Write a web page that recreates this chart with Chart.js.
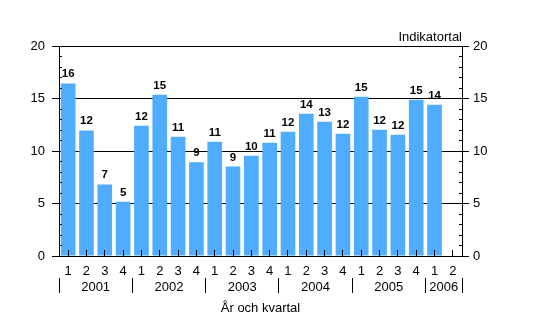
<!DOCTYPE html>
<html>
<head>
<meta charset="utf-8">
<script src="https://cdn.jsdelivr.net/npm/chart.js@4"></script>
<style>
  body { margin: 0; background: #fff; }
  canvas { display: block; }
</style>
</head>
<body>
<canvas id="chart" width="553" height="315"></canvas>
<script>
// quarterly indicator values, 2001 Q1 .. 2006 Q2 (last quarter empty)
const quarters = ["1", "2", "3", "4", "1", "2", "3", "4", "1", "2", "3", "4",
  "1", "2", "3", "4", "1", "2", "3", "4", "1", "2"];
const years = ["2001", "2002", "2003", "2004", "2005", "2006"];
const yearStart = [0, 4, 8, 12, 16, 20, 22];
const values = [16.44, 11.96, 6.82, 5.17, 12.41, 15.36, 11.36, 8.92, 10.89, 8.52, 9.55,
  10.79, 11.84, 13.55, 12.79, 11.65, 15.17, 12.03, 11.55, 14.89, 14.41, null];

const FONT = "'Liberation Sans', Arial, sans-serif";

function crisp(p) {
  return Math.floor(p) + 0.5;
}

// extra marks: ticks, value labels, year groups, titles
const decorPlugin = {
  id: "decor",
  afterDatasetsDraw(chart) {
    const ctx = chart.ctx;
    const area = chart.chartArea;
    const x = chart.scales.x;
    const y = chart.scales.y;
    ctx.save();
    ctx.strokeStyle = "#000";
    ctx.lineWidth = 1;

    // y ticks: major outside, minor inside, both sides
    ctx.beginPath();
    for (let v = 0; v <= 20; v++) {
      const py = crisp(y.getPixelForValue(v));
      if (v % 5 === 0) {
        ctx.moveTo(area.left - 7, py);
        ctx.lineTo(area.left, py);
        ctx.moveTo(area.right, py);
        ctx.lineTo(area.right + 7, py);
      } else {
        ctx.moveTo(area.left, py);
        ctx.lineTo(area.left + 3, py);
        ctx.moveTo(area.right - 3, py);
        ctx.lineTo(area.right, py);
      }
    }
    // x ticks at category centres, pointing up
    quarters.forEach((q, i) => {
      const px = crisp(x.getPixelForValue(i));
      ctx.moveTo(px, area.bottom - 6);
      ctx.lineTo(px, area.bottom);
    });
    // year separators
    yearStart.forEach((s) => {
      const px = crisp(x.getPixelForValue(s - 0.5));
      ctx.moveTo(px, 278);
      ctx.lineTo(px, 293);
    });
    ctx.stroke();

    // value labels
    ctx.fillStyle = "#000";
    ctx.textAlign = "center";
    ctx.textBaseline = "alphabetic";
    ctx.font = "bold 11.5px " + FONT;
    const meta = chart.getDatasetMeta(0);
    values.forEach((v, i) => {
      if (v === null) return;
      const bar = meta.data[i];
      ctx.fillText(String(Math.round(v)), bar.x, bar.y - 6);
    });

    // year labels
    ctx.font = "13px " + FONT;
    years.forEach((yr, k) => {
      const a = x.getPixelForValue(yearStart[k] - 0.5);
      const b = x.getPixelForValue(yearStart[k + 1] - 0.5);
      ctx.fillText(yr, (a + b) / 2, 291);
    });

    // axis titles
    ctx.fillText("År och kvartal", (area.left + area.right) / 2, 312);
    ctx.textAlign = "right";
    ctx.fillText("Indikatortal", area.right, 41);
    ctx.restore();
  },
};

new Chart(document.getElementById("chart"), {
  type: "bar",
  data: {
    labels: quarters,
    datasets: [
      {
        data: values,
        backgroundColor: "#50acff",
        barPercentage: 0.8,
        categoryPercentage: 1,
      },
    ],
  },
  options: {
    responsive: false,
    animation: false,
    layout: {
      padding: { top: 46, left: 0, right: 0, bottom: 0 },
    },
    plugins: {
      legend: { display: false },
      tooltip: { enabled: false },
    },
    scales: {
      x: {
        grid: { display: false, drawTicks: false },
        border: { display: true, color: "#000", width: 1 },
        ticks: {
          color: "#000",
          font: { family: FONT, size: 13 },
          padding: 8,
          maxRotation: 0,
          autoSkip: false,
        },
        afterFit(scale) {
          scale.height = 59;
        },
      },
      y: {
        min: 0,
        max: 20,
        grid: { color: "#000", drawTicks: false },
        border: { color: "#000", width: 1 },
        ticks: {
          stepSize: 5,
          color: "#000",
          font: { family: FONT, size: 13 },
          padding: 14,
        },
        afterFit(scale) {
          scale.width = 59;
        },
      },
      y2: {
        position: "right",
        min: 0,
        max: 20,
        grid: { drawOnChartArea: false, drawTicks: false },
        border: { color: "#000", width: 1 },
        ticks: {
          stepSize: 5,
          color: "#000",
          font: { family: FONT, size: 13 },
          padding: 11,
        },
        afterFit(scale) {
          scale.width = 91;
        },
      },
    },
  },
  plugins: [decorPlugin],
});
</script>
</body>
</html>
